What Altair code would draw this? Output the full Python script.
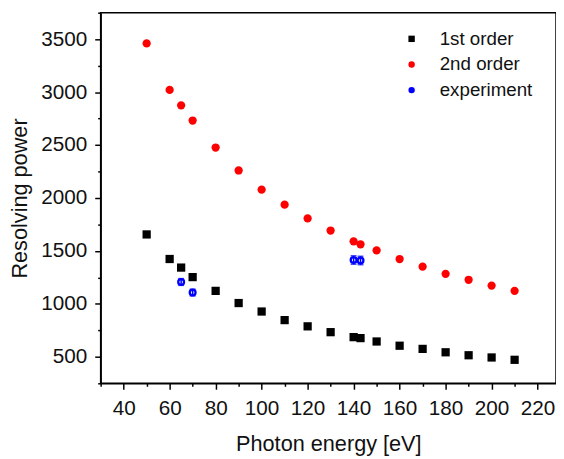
import altair as alt
import pandas as pd

energy = [50, 60, 65, 70, 80, 90, 100, 110, 120, 130, 140, 143, 150, 160, 170, 180, 190, 200, 210]
first_order = [1656, 1424, 1343, 1253, 1123, 1008, 928, 847, 788, 733, 686, 677, 645, 605, 575, 543, 515, 494, 472]
second_order = [3460, 3021, 2875, 2732, 2477, 2260, 2079, 1937, 1807, 1693, 1591, 1563, 1505, 1424, 1352, 1284, 1228, 1173, 1123]
exp_energy = [65, 70, 140, 143]
exp_value = [1207, 1107, 1414, 1410]
exp_error = [32, 32, 40, 40]

x_major = [40, 60, 80, 100, 120, 140, 160, 180, 200, 220]
x_minor = [30, 50, 70, 90, 110, 130, 150, 170, 190, 210]
y_major = [500, 1000, 1500, 2000, 2500, 3000, 3500]
y_minor = [250, 750, 1250, 1750, 2250, 2750, 3250, 3750]

series_names = ["1st order", "2nd order", "experiment"]
series_colors = ["#000000", "#ff0000", "#0000ff"]
series_shapes = ["square", "circle", "circle"]

rows = []
for e, v in zip(energy, first_order):
    rows.append({"E": e, "R": v, "series": series_names[0]})
for e, v in zip(energy, second_order):
    rows.append({"E": e, "R": v, "series": series_names[1]})
calc = pd.DataFrame(rows)

exp = pd.DataFrame({
    "E": exp_energy,
    "R": exp_value,
    "lo": [v - d for v, d in zip(exp_value, exp_error)],
    "hi": [v + d for v, d in zip(exp_value, exp_error)],
    "series": series_names[2],
})

FONT = "Liberation Sans"

xs = alt.Scale(domain=[30, 228], nice=False, zero=False)
ys = alt.Scale(domain=[250, 3750], nice=False, zero=False)
color = alt.Color("series:N", scale=alt.Scale(domain=series_names, range=series_colors),
                  legend=alt.Legend(title=None, orient="none", legendX=306, legendY=17,
                                    labelFontSize=19, labelFont=FONT, labelColor="#111111",
                                    symbolSize=42, labelOffset=19, rowPadding=6,
                                    symbolStrokeWidth=0))
shape = alt.Shape("series:N", scale=alt.Scale(domain=series_names, range=series_shapes), legend=None)

minor = alt.Chart(calc).mark_point(opacity=0).encode(
    x=alt.X("E:Q", scale=xs, axis=alt.Axis(orient="bottom", values=x_minor, tickSize=3,
                                           labels=False, title=None, grid=False, domain=False)),
    y=alt.Y("R:Q", scale=ys, axis=alt.Axis(orient="left", values=y_minor, tickSize=3,
                                           labels=False, title=None, grid=False, domain=False)),
)

pts = alt.Chart(calc).mark_point(filled=True, size=70, opacity=1).encode(
    x=alt.X("E:Q", scale=xs, axis=alt.Axis(orient="bottom", title="Photon energy [eV]",
                                           values=x_major, tickSize=6, grid=False,
                                           labelPadding=9, titlePadding=15, labelFlush=False)),
    y=alt.Y("R:Q", scale=ys, axis=alt.Axis(orient="left", title="Resolving power",
                                           values=y_major, tickSize=6, grid=False, format="d",
                                           labelPadding=8, titlePadding=10, labelFlush=False)),
    color=color,
    shape=shape,
)

bars = alt.Chart(exp).mark_errorbar(ticks={"size": 6}, color="#0000ff", thickness=1.5).encode(
    x=alt.X("E:Q", scale=xs, axis=None),
    y=alt.Y("lo:Q", scale=ys, axis=None),
    y2="hi:Q",
)

exp_pts = alt.Chart(exp).mark_point(filled=False, size=34, strokeWidth=2.4, opacity=1).encode(
    x=alt.X("E:Q", scale=xs, axis=None),
    y=alt.Y("R:Q", scale=ys, axis=None),
    color=color,
    shape=shape,
)

chart = alt.layer(minor, bars, pts, exp_pts).resolve_axis(
    x="independent", y="independent"
).properties(
    width=462,
    height=376,
    autosize=alt.AutoSizeParams(type="none"),
    padding={"left": 94, "top": 1.5, "right": 0, "bottom": 73},
).configure_view(
    stroke="#000000", strokeWidth=1.5
).configure_axis(
    domainColor="#000000", domainWidth=1.5, tickColor="#000000", tickWidth=1.5,
    labelFont=FONT, labelFontSize=21, labelColor="#111111",
    titleFont=FONT, titleFontSize=22, titleFontWeight="normal", titleColor="#111111",
)

chart.save("out.html", embed_options={"renderer": "svg", "actions": False})
